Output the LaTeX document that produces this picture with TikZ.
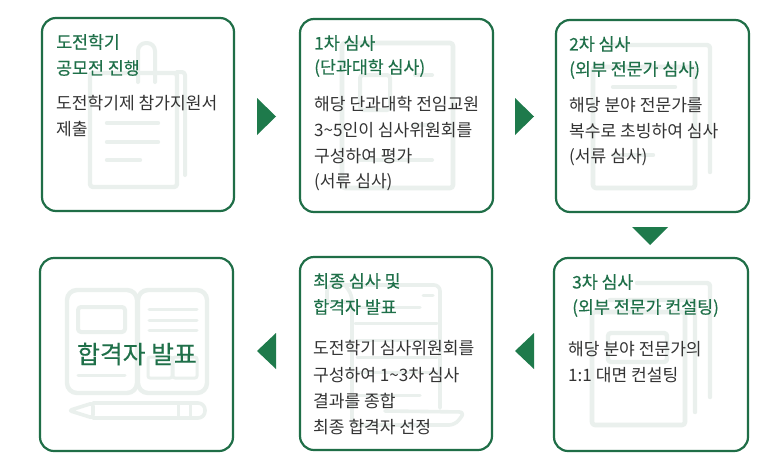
\documentclass[tikz,border=0pt]{standalone}
\usepackage{fontspec}
\setmainfont{Noto Sans CJK KR}
\newfontfamily\titlefont[FakeBold=0.25]{Noto Sans CJK KR}
\definecolor{boxgreen}{HTML}{1F6E47}
\definecolor{arrowgreen}{HTML}{1E7A4B}
\definecolor{titlegreen}{HTML}{1F7049}
\definecolor{bodygray}{HTML}{333333}
\definecolor{iconpale}{HTML}{EAF0ED}
\tikzset{
  card/.style={draw=boxgreen,line width=2.2pt,rounded corners=14pt,fill=none,inner sep=0pt,outer sep=0pt,anchor=north west},
  ttl/.style={anchor=west,inner sep=0pt,text=titlegreen,font=\titlefont\fontsize{17.3pt}{19pt}\selectfont},
  bdy/.style={anchor=west,inner sep=0pt,text=bodygray,font=\fontsize{17.1pt}{19pt}\selectfont},
  big/.style={anchor=center,inner sep=0pt,text=titlegreen,font=\titlefont\fontsize{24.8pt}{27pt}\selectfont},
  ico/.style={draw=iconpale,line width=3.6pt,line cap=round,line join=round,rounded corners=3pt},
  icothin/.style={draw=iconpale,line width=3pt,line cap=round,line join=round,rounded corners=2pt},
  tri/.style={fill=arrowgreen,draw=none}
}
\begin{document}
\begin{tikzpicture}[x=1pt,y=-1pt]
\useasboundingbox (0,0) rectangle (767,471);
\fill[white] (0,0) rectangle (767,471);
% --- pale icons
% card 1: paper and clip
\draw[ico,line width=4.4pt] (90,73) rectangle (177,187);
\draw[ico,line width=4pt] (177,72) -- (185,72) -- (185,175);
\draw[ico,rounded corners=8pt,line width=4pt] (138,82) -- (138,43) -- (155,43) -- (155,82);
\draw[ico,line width=4.4pt] (107,123) -- (158,123) (107,142) -- (158,142) (107,160) -- (140,160);
% card 2: sheet
\draw[ico,line width=4.6pt] (342,43) rectangle (453,188);
\draw[ico,line width=4pt] (360,75) rectangle (390,110);
\draw[ico,line width=4pt] (415,75) -- (432,75) (415,125) -- (432,125) (360,160) -- (432,160);
% card 3: two sheets
\draw[ico,line width=4.6pt] (593,67) rectangle (695,188);
\draw[ico,line width=4.4pt] (607,45) -- (710,45) -- (710,172);
\draw[ico,line width=4.4pt] (613,87) -- (675,87) (613,155) -- (653,155);
% card 4: three sheets
\draw[ico,line width=4.6pt] (592,312) rectangle (685,425);
\draw[ico,line width=4.4pt] (610,300) -- (695,300) -- (695,412);
\draw[ico,line width=4.4pt] (637,283) -- (710,283) -- (710,397);
\draw[ico,line width=4.4pt] (608,333) rectangle (667,362);
% card 5: scroll
\draw[ico,rounded corners=6pt] (327,302) -- (327,285) -- (440,285) -- (440,408);
\draw[ico,rounded corners=6pt] (327,302) -- (352,302) (345,285) -- (352,295) -- (352,425) -- (455,425) -- (465,412) -- (385,411);
\draw[icothin] (423,295) -- (433,295) (357,307) -- (420,307) (355,323) -- (437,323) (357,340) -- (437,340) (357,357) -- (437,357) (357,372) -- (437,372) (357,395) -- (420,395);
% card 6: book and pencil
\draw[ico,rounded corners=10pt,line width=4.4pt] (67,290) rectangle (137,393);
\draw[ico,rounded corners=10pt,line width=4.4pt] (138,290) rectangle (207,393);
\draw[ico,line width=4pt] (78,307) rectangle (125,332);
\draw[icothin] (78,375) -- (125,375) (149,309) -- (197,309) (149,320) -- (197,320) (149,330) -- (197,330);
\draw[icothin] (148,357) rectangle (172,378) (173,357) rectangle (197,378);
\draw[ico,rounded corners=7pt] (93,403) -- (205,403) -- (205,418) -- (93,418);
\draw[ico] (93,403) -- (69,410.5) -- (93,418) -- cycle;
\draw[icothin] (178,403) -- (178,418) (190,403) -- (190,418);
% --- cards
\node[card,minimum width=192pt,minimum height=193pt] (c1) at (42,18) {};
\node[card,minimum width=193pt,minimum height=193pt] (c2) at (300,19) {};
\node[card,minimum width=193pt,minimum height=192pt] (c3) at (556,20) {};
\node[card,minimum width=194pt,minimum height=193pt] (c4) at (554,258) {};
\node[card,minimum width=192pt,minimum height=193pt] (c5) at (300,257) {};
\node[card,minimum width=193pt,minimum height=193pt] (c6) at (40,258) {};
% --- triangles
\fill[tri] (257,98) -- (276,116.5) -- (257,135) -- cycle;
\fill[tri] (515,98) -- (534,116.5) -- (515,135) -- cycle;
\fill[tri] (632,227) -- (668,227) -- (650,245) -- cycle;
\fill[tri] (534,333) -- (515,351) -- (534,369) -- cycle;
\fill[tri] (276,333) -- (257,351) -- (276,369) -- cycle;
% --- text
\node[ttl] (t1a) at (56,42) {도전학기};
\node[ttl] (t1b) at (56,68) {공모전 진행};
\node[bdy] (b1a) at (56,103) {도전학기제 참가지원서};
\node[bdy] (b1b) at (56,129) {제출};
\node[ttl] (t2a) at (314,43) {1차 심사};
\node[ttl] (t2b) at (314,68) {(단과대학 심사)};
\node[bdy] (b2a) at (314,104) {해당 단과대학 전임교원};
\node[bdy] (b2b) at (314,130) {3\textasciitilde5인이 심사위원회를};
\node[bdy] (b2c) at (314,156) {구성하여 평가};
\node[bdy] (b2d) at (314,182) {(서류 심사)};
\node[ttl] (t3a) at (569,44) {2차 심사};
\node[ttl] (t3b) at (569,70) {(외부 전문가 심사)};
\node[bdy] (b3a) at (569,105) {해당 분야 전문가를};
\node[bdy] (b3b) at (569,131) {복수로 초빙하여 심사};
\node[bdy] (b3c) at (569,157) {(서류 심사)};
\node[ttl] (t4a) at (572,282) {3차 심사};
\node[ttl] (t4b) at (572,308) {(외부 전문가 컨설팅)};
\node[bdy] (b4a) at (568,349) {해당 분야 전문가의};
\node[bdy] (b4b) at (568,375) {1:1 대면 컨설팅};
\node[ttl] (t5a) at (313,281) {최종 심사 및};
\node[ttl] (t5b) at (313,307) {합격자 발표};
\node[bdy] (b5a) at (313,348) {도전학기 심사위원회를};
\node[bdy] (b5b) at (313,375) {구성하여 1\textasciitilde3차 심사};
\node[bdy] (b5c) at (313,401) {결과를 종합};
\node[bdy] (b5d) at (313,427) {최종 합격자 선정};
\node[big] (t6) at (137,354) {합격자 발표};
\end{tikzpicture}
\end{document}
